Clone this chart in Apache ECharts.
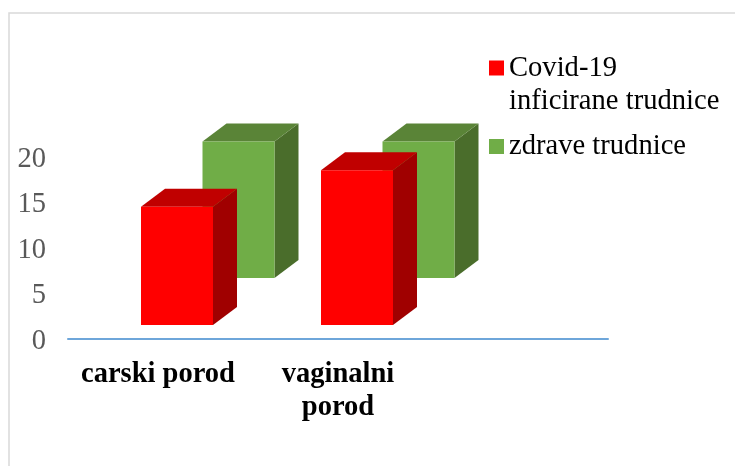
<!DOCTYPE html>
<html>
<head>
<meta charset="utf-8">
<style>
  html, body { margin: 0; padding: 0; background: #fff; }
  #main { width: 735px; height: 466px; }
</style>
<script src="https://cdn.jsdelivr.net/npm/echarts@6/dist/echarts.min.js"></script>
</head>
<body>
<div id="main"></div>
<script>
  // data
  var categories = ['carski porod', 'vaginalni\nporod', '']
  var covidName = 'Covid-19\ninficirane trudnice'
  var zdraveName = 'zdrave trudnice'
  var covidValues = [13, 17]
  var zdraveValues = [15, 15]

  var serifFont = '"Liberation Serif", "Times New Roman", serif'
  var barW = 72      // front face width
  var depthX = 24    // 3d depth to the right
  var depthY = 18    // 3d depth upwards

  // draws one box: front, top and side faces
  function box3d (shiftX, lift, front, top, side) {
    return function (params, api) {
      var p = api.coord([api.value(0), api.value(1)])
      var base = api.coord([api.value(0), 0])
      var x0 = p[0] + shiftX - barW / 2
      var x1 = x0 + barW
      var yTop = p[1] - lift
      var yBase = base[1] - lift
      return {
        type: 'group',
        children: [
          {
            type: 'polygon',
            shape: { points: [[x1, yTop], [x1 + depthX, yTop - depthY], [x1 + depthX, yBase - depthY], [x1, yBase]] },
            style: { fill: side }
          },
          {
            type: 'polygon',
            shape: { points: [[x0, yTop], [x0 + depthX, yTop - depthY], [x1 + depthX, yTop - depthY], [x1, yTop]] },
            style: { fill: top }
          },
          {
            type: 'rect',
            shape: { x: x0, y: yTop, width: barW, height: yBase - yTop },
            style: { fill: front }
          }
        ]
      }
    }
  }

  var legendText = { fontFamily: serifFont, fontSize: 28.6, lineHeight: 33, color: '#000' }

  var chart = echarts.init(document.getElementById('main'), null, { renderer: 'canvas' })
  chart.setOption({
    animation: false,
    backgroundColor: '#fff',
    textStyle: { fontFamily: serifFont },
    graphic: [
      // chart frame, only left and top edges are visible
      {
        type: 'rect',
        shape: { x: 9, y: 13, width: 800, height: 600 },
        style: { fill: 'none', stroke: '#d9d9d9', lineWidth: 1.5 },
        silent: true,
        z: -1
      }
    ],
    grid: { left: 68, top: 157, width: 540, height: 182 },
    legend: [
      {
        left: 489,
        top: 18.5,
        data: [covidName],
        // empty first line keeps the square level with "Covid-19"
        formatter: function (name) { return '\n' + name },
        icon: 'rect',
        itemWidth: 15,
        itemHeight: 15,
        padding: 0,
        selectedMode: false,
        textStyle: legendText
      },
      {
        left: 489,
        top: 130,
        data: [zdraveName],
        icon: 'rect',
        itemWidth: 15,
        itemHeight: 15,
        padding: 0,
        selectedMode: false,
        textStyle: legendText
      }
    ],
    xAxis: {
      type: 'category',
      data: categories,
      axisLine: { lineStyle: { color: '#6ea6da', width: 2 } },
      axisTick: { show: false },
      axisLabel: {
        interval: 0,
        margin: 19,
        fontFamily: serifFont,
        fontSize: 28.5,
        fontWeight: 'bold',
        lineHeight: 33,
        color: '#000'
      }
    },
    yAxis: {
      type: 'value',
      min: 0,
      max: 20,
      interval: 5,
      axisLine: { show: false },
      axisTick: { show: false },
      splitLine: { show: false },
      axisLabel: {
        margin: 22,
        formatter: '{t|{value}}',
        rich: {
          // top padding pushes the digits down to where the reference has them
          t: { fontFamily: serifFont, fontSize: 28.5, color: '#595959', padding: [5, 0, 0, 0] }
        }
      }
    },
    series: [
      {
        name: covidName,
        type: 'custom',
        z: 3,
        clip: false,
        silent: true,
        itemStyle: { color: '#ff0000' },
        encode: { x: 0, y: 1 },
        data: covidValues.map(function (v, i) { return [i, v] }),
        renderItem: box3d(19, 14, '#ff0000', '#c00000', '#a00000')
      },
      {
        name: zdraveName,
        type: 'custom',
        z: 2,
        clip: false,
        silent: true,
        itemStyle: { color: '#70ad47' },
        encode: { x: 0, y: 1 },
        data: zdraveValues.map(function (v, i) { return [i, v] }),
        renderItem: box3d(80.5, 61, '#70ad47', '#5a8437', '#4a6d2b')
      }
    ]
  })
</script>
</body>
</html>
